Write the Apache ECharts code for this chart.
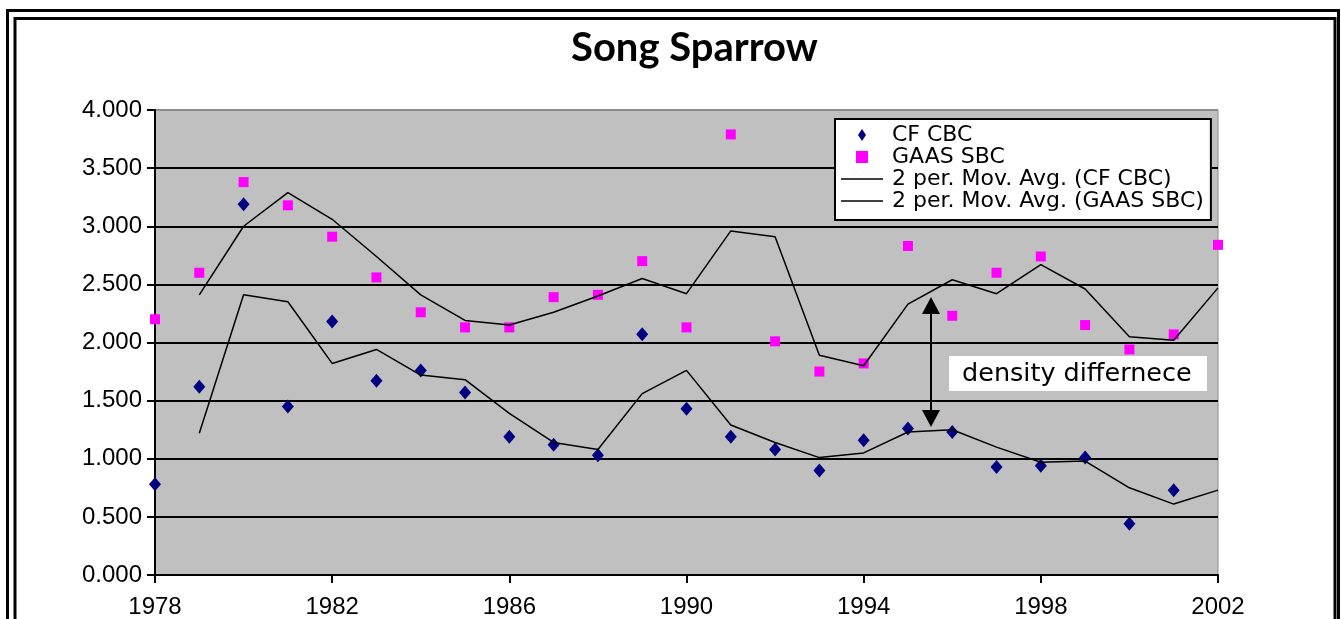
<!DOCTYPE html>
<html>
<head>
<meta charset="utf-8">
<title>Song Sparrow</title>
<script src="https://cdn.jsdelivr.net/npm/echarts@6/dist/echarts.min.js"></script>
<style>
html, body { margin: 0; padding: 0; background: #fff; }
#chart { width: 1341px; height: 619px; }
</style>
</head>
<body>
<div id="chart"></div>
<script>
var years = [1978, 1979, 1980, 1981, 1982, 1983, 1984, 1985, 1986, 1987, 1988, 1989, 1990,
             1991, 1992, 1993, 1994, 1995, 1996, 1997, 1998, 1999, 2000, 2001, 2002];

// counts (CF CBC has no 2002 point)
var cfCbc   = [0.78, 1.62, 3.19, 1.45, 2.18, 1.67, 1.76, 1.57, 1.19, 1.12, 1.03, 2.07, 1.43,
               1.19, 1.08, 0.90, 1.16, 1.26, 1.23, 0.93, 0.94, 1.01, 0.44, 0.73, null];
var gaasSbc = [2.20, 2.60, 3.38, 3.18, 2.91, 2.56, 2.26, 2.13, 2.13, 2.39, 2.41, 2.70, 2.13,
               3.79, 2.01, 1.75, 1.82, 2.83, 2.23, 2.60, 2.74, 2.15, 1.94, 2.07, 2.84];

// 2 period moving average trend lines as drawn
var cfAvg   = [null, 1.22, 2.41, 2.35, 1.82, 1.94, 1.72, 1.68, 1.39, 1.14, 1.08, 1.56, 1.76,
               1.29, 1.14, 1.01, 1.05, 1.23, 1.25, 1.10, 0.97, 0.98, 0.75, 0.61, 0.73];
var gaasAvg = [null, 2.41, 3.00, 3.29, 3.06, 2.74, 2.41, 2.19, 2.15, 2.26, 2.40, 2.55, 2.42,
               2.96, 2.91, 1.89, 1.80, 2.33, 2.54, 2.42, 2.67, 2.46, 2.05, 2.02, 2.47];

var yTicks = [0, 0.5, 1, 1.5, 2, 2.5, 3, 3.5, 4];

var seriesNames = ['CF CBC', 'GAAS SBC', '2 per. Mov. Avg. (CF CBC)', '2 per. Mov. Avg. (GAAS SBC)'];

function toPoints(values) {
    var out = [];
    for (var i = 0; i < years.length; i++) {
        if (values[i] !== null) out.push([years[i], values[i]]);
    }
    return out;
}

var axisFont = 'Liberation Sans, Arial, sans-serif';
var gridColors = [];
for (var k = 0; k < yTicks.length; k++) {
    gridColors.push(k === yTicks.length - 1 ? '#8c8c8c' : '#000');
}

var diamondIcon = 'path://M4,0 L8,6 L4,12 L0,6 Z';
var squareIcon = 'path://M0,0 L10,0 L10,10 L0,10 Z';
var lineIcon = 'path://M0,0 L42,0 L42,1.6 L0,1.6 Z';

var chart = echarts.init(document.getElementById('chart'));

chart.setOption({
    animation: false,
    backgroundColor: '#fff',
    title: {
        text: 'Song Sparrow',
        left: 571,
        top: 28,
        padding: 0,
        textStyle: { fontFamily: 'Lato', fontWeight: 'bold', fontSize: 40, color: '#000' }
    },
    legend: {
        orient: 'vertical',
        left: 835,
        top: 119,
        padding: [5, 7, 8, 6],
        itemWidth: 42,
        itemHeight: 12,
        itemGap: 0,
        symbolKeepAspect: true,
        backgroundColor: '#fff',
        borderColor: '#000',
        borderWidth: 2,
        borderRadius: 0,
        data: [
            { name: seriesNames[0], icon: diamondIcon },
            { name: seriesNames[1], icon: squareIcon },
            { name: seriesNames[2], icon: lineIcon },
            { name: seriesNames[3], icon: lineIcon }
        ],
        textStyle: { fontFamily: 'DejaVu Sans', fontSize: 22, lineHeight: 20, color: '#000', padding: [0, 0, 0, 4] }
    },
    grid: {
        left: 155,
        top: 110,
        width: 1063,
        height: 465,
        show: true,
        backgroundColor: '#c0c0c0',
        borderColor: '#8c8c8c',
        borderWidth: 1
    },
    xAxis: {
        type: 'value',
        min: 1978,
        max: 2002,
        interval: 4,
        axisLine: { lineStyle: { color: '#000', width: 2 } },
        axisTick: { length: 8, lineStyle: { color: '#000', width: 2 } },
        splitLine: { show: false },
        axisLabel: {
            margin: 20,
            fontFamily: axisFont,
            fontSize: 24,
            color: '#000',
            formatter: function (v) { return String(v); }
        }
    },
    yAxis: {
        type: 'value',
        min: 0,
        max: 4,
        interval: 0.5,
        axisLine: { show: true, lineStyle: { color: '#000', width: 2 } },
        axisTick: { show: true, length: 8, lineStyle: { color: '#000', width: 2 } },
        splitLine: { lineStyle: { color: gridColors, width: 2 } },
        axisLabel: {
            margin: 13,
            fontFamily: axisFont,
            fontSize: 24,
            color: '#000',
            formatter: function (v) { return v.toFixed(3); }
        }
    },
    series: [
        {
            name: seriesNames[0],
            type: 'scatter',
            symbol: 'diamond',
            symbolSize: [12, 14],
            itemStyle: { color: '#000080', opacity: 1 },
            data: toPoints(cfCbc),
            z: 2
        },
        {
            name: seriesNames[1],
            type: 'scatter',
            symbol: 'rect',
            symbolSize: 10,
            itemStyle: { color: '#ff00ff', opacity: 1 },
            data: toPoints(gaasSbc),
            z: 2
        },
        {
            name: seriesNames[2],
            type: 'line',
            symbol: 'none',
            lineStyle: { color: '#000', width: 1.5 },
            itemStyle: { color: '#000' },
            data: toPoints(cfAvg),
            z: 3
        },
        {
            name: seriesNames[3],
            type: 'line',
            symbol: 'none',
            lineStyle: { color: '#000', width: 1.5 },
            itemStyle: { color: '#000' },
            data: toPoints(gaasAvg),
            z: 3
        }
    ],
    graphic: [
        // double frame round the chart
        { type: 'rect', z: 50, shape: { x: 7.5, y: 10.5, width: 1331, height: 700 },
          style: { fill: null, stroke: '#000', lineWidth: 3 } },
        { type: 'rect', z: 50, shape: { x: 15, y: 18.5, width: 1320, height: 700 },
          style: { fill: null, stroke: '#000', lineWidth: 3 } },
        // density difference arrow and label
        { type: 'line', z: 60, shape: { x1: 931, y1: 310, x2: 931, y2: 414 },
          style: { stroke: '#000', lineWidth: 2 } },
        { type: 'polygon', z: 60, shape: { points: [[931, 297], [922, 314], [940, 314]] },
          style: { fill: '#000' } },
        { type: 'polygon', z: 60, shape: { points: [[931, 427], [922, 410], [940, 410]] },
          style: { fill: '#000' } },
        { type: 'rect', z: 60, shape: { x: 949, y: 356, width: 258, height: 35 },
          style: { fill: '#fff' } },
        { type: 'text', z: 61, x: 962, y: 374,
          style: { text: 'density differnece', font: '25.5px "DejaVu Sans"', fill: '#000',
                   verticalAlign: 'middle' } }
    ]
});
</script>
</body>
</html>
